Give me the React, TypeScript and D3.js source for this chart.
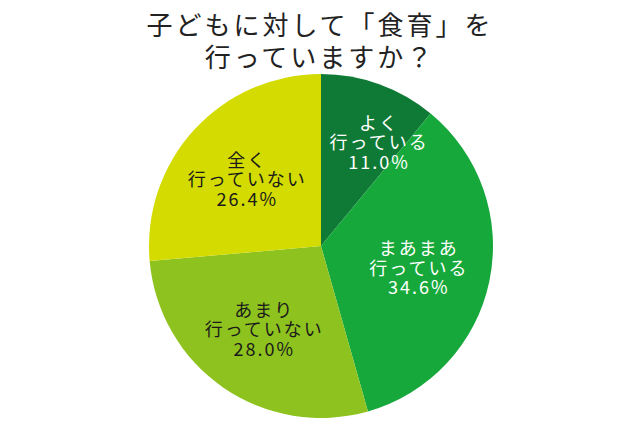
import { useEffect, useRef } from 'react';
import * as d3 from 'd3';

const titleLines = ['子どもに対して「食育」を', '行っていますか？'];
const labels = [['よく', '行っている'], ['まあまあ', '行っている'], ['あまり', '行っていない'], ['全く', '行っていない']];
const values = [11.0, 34.6, 28.0, 26.4];
const colors = ['#0f7a35', '#17a83c', '#8ec21f', '#d3db00'];
const textColors = ['#ffffff', '#ffffff', '#1a1a1a', '#1a1a1a'];

export default function App() {
  const svgRef = useRef<SVGSVGElement>(null);

  useEffect(() => {
    if (!svgRef.current) return;
    const width = 640;
    const height = 426;
    const cx = 321;
    const cy = 246;
    const radius = 172;

    const svg = d3.select(svgRef.current);
    svg.selectAll('*').remove();
    svg.attr('width', width).attr('height', height);

    svg.append('rect').attr('width', width).attr('height', height).attr('fill', '#fff');

    // title
    svg.append('g')
      .selectAll('text')
      .data(titleLines)
      .join('text')
      .attr('x', width / 2)
      .attr('y', (d, i) => 23 + i * 32)
      .attr('text-anchor', 'middle')
      .attr('dominant-baseline', 'central')
      .attr('font-family', '"Noto Sans CJK JP", sans-serif')
      .attr('font-size', 26)
      .attr('letter-spacing', 3)
      .attr('fill', '#222')
      .text(d => d);

    const pie = d3.pie<number>().sort(null).value(d => d);
    const arcs = pie(values);
    const arc = d3.arc<d3.PieArcDatum<number>>().innerRadius(0).outerRadius(radius);

    const g = svg.append('g').attr('transform', `translate(${cx},${cy})`);

    g.selectAll('path')
      .data(arcs)
      .join('path')
      .attr('d', arc)
      .attr('fill', (d, i) => colors[i]);

    // labels
    const labelG = g.selectAll('g.label')
      .data(arcs)
      .join('g')
      .attr('class', 'label')
      .attr('transform', d => {
        const small = d.value < 15;
        const mid = (d.startAngle + d.endAngle) / 2 + (small ? 0.16 : 0);
        const r = small ? 120 : 100;
        return `translate(${Math.sin(mid) * r},${-Math.cos(mid) * r})`;
      });

    labelG.each(function (d, i) {
      const lines = [...labels[i], `${values[i].toFixed(1)}%`];
      d3.select(this)
        .selectAll('text')
        .data(lines)
        .join('text')
        .attr('x', 0)
        .attr('y', (t, j) => (j - 1) * 19.5)
        .attr('text-anchor', 'middle')
        .attr('dominant-baseline', 'central')
        .attr('font-family', '"Noto Sans CJK JP", sans-serif')
        .attr('font-size', 18)
        .attr('letter-spacing', 2)
        .attr('fill', textColors[i])
        .text(t => t);
    });
  }, []);

  return <svg ref={svgRef} style={{ position: 'absolute', left: 0, top: 0, display: 'block' }} />;
}
